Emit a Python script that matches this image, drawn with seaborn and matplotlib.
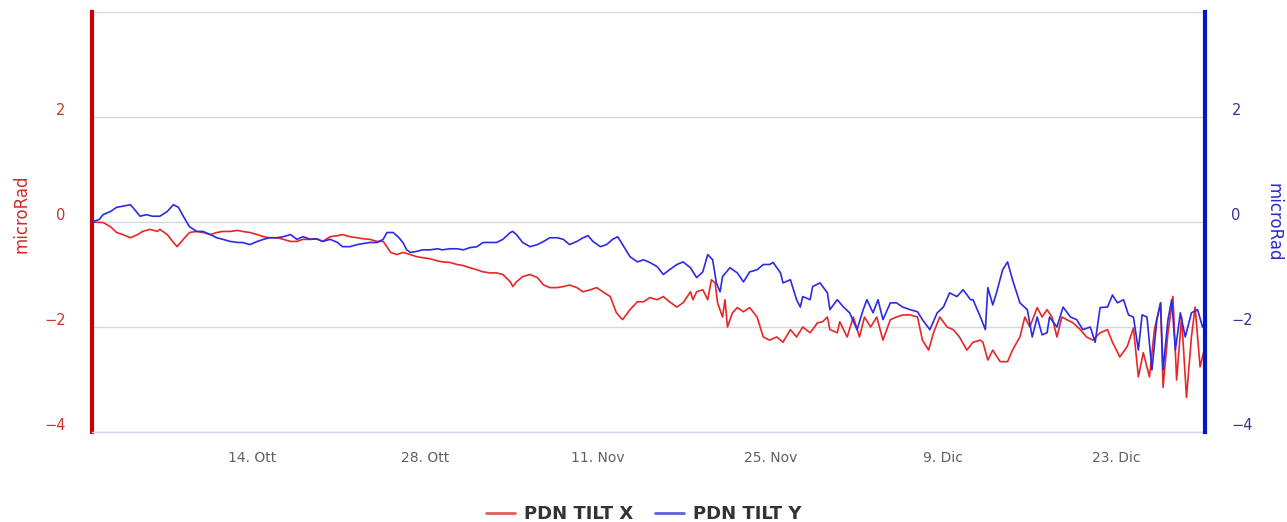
import numpy as np
import pandas as pd
import matplotlib
matplotlib.use("Agg")
import matplotlib.pyplot as plt
import matplotlib.transforms as mtransforms
from matplotlib.lines import Line2D
import seaborn as sns

# ---------------- data ----------------
start_date = "2019-10-01"

tilt_x_days = [0.0, 0.9, 1.5, 2.0, 2.5, 3.1, 3.7, 4.1, 4.7, 5.3, 5.5, 6.1, 6.6, 6.9, 7.4, 7.9,
               8.5, 9.0, 9.6, 10.1, 10.6, 11.2, 11.8, 12.2, 12.8, 13.4, 13.9, 14.4, 15.0, 15.5,
               16.1, 16.6, 17.1, 17.7, 18.2, 18.7, 19.3, 19.9, 20.3, 20.9, 21.5, 22.0, 22.5, 23.1,
               23.6, 23.9, 24.2, 24.7, 25.2, 25.8, 26.3, 26.8, 27.4, 28.0, 28.4, 29.0, 29.6, 30.1,
               30.6, 31.2, 31.7, 32.3, 32.8, 33.3, 33.9, 34.1, 34.4, 34.9, 35.5, 36.1, 36.6, 37.1,
               37.7, 38.2, 38.7, 39.3, 39.8, 40.4, 40.9, 41.4, 42.0, 42.5, 43.0, 43.6, 44.2, 44.7,
               45.2, 45.8, 46.3, 46.8, 47.4, 47.9, 48.5, 48.7, 49.0, 49.5, 49.9, 50.2, 50.5, 50.7,
               51.1, 51.3, 51.5, 51.9, 52.3, 52.8, 53.3, 53.9, 54.4, 54.9, 55.5, 56.0, 56.6, 57.1,
               57.6, 58.2, 58.8, 59.2, 59.6, 59.8, 60.4, 60.6, 61.2, 61.7, 62.2, 62.6, 63.1, 63.6,
               64.1, 64.7, 65.2, 65.7, 66.3, 66.9, 67.3, 67.8, 68.2, 68.7, 69.3, 69.8, 70.3, 70.9,
               71.4, 72.0, 72.2, 72.6, 73.0, 73.6, 74.2, 74.6, 75.2, 75.6, 76.0, 76.6, 77.0, 77.4,
               77.8, 78.2, 78.6, 79.0, 79.5, 80.1, 80.6, 81.1, 81.7, 82.3, 82.7, 83.3, 83.9, 84.4,
               84.8, 85.2, 85.7, 86.1, 86.6, 86.8, 87.2, 87.6, 87.9, 88.3, 88.7, 89.1, 89.4, 89.8,
               90.2]
tilt_x_values = [0.0, -0.01, -0.09, -0.20, -0.24, -0.30, -0.24, -0.18, -0.14, -0.18, -0.14, -0.24,
                 -0.39, -0.47, -0.33, -0.20, -0.18, -0.20, -0.24, -0.20, -0.18, -0.18, -0.16, -0.18,
                 -0.20, -0.24, -0.28, -0.30, -0.30, -0.33, -0.37, -0.37, -0.33, -0.33, -0.32, -0.37,
                 -0.28, -0.26, -0.24, -0.28, -0.30, -0.32, -0.33, -0.37, -0.37, -0.47, -0.58, -0.62,
                 -0.58, -0.62, -0.66, -0.68, -0.70, -0.74, -0.76, -0.77, -0.81, -0.83, -0.87, -0.91,
                 -0.95, -0.97, -0.97, -1.00, -1.14, -1.23, -1.14, -1.04, -1.00, -1.06, -1.20, -1.25,
                 -1.25, -1.23, -1.20, -1.25, -1.33, -1.29, -1.25, -1.33, -1.42, -1.73, -1.86, -1.67,
                 -1.52, -1.52, -1.44, -1.48, -1.42, -1.52, -1.62, -1.54, -1.33, -1.48, -1.33, -1.29,
                 -1.48, -1.10, -1.16, -1.54, -1.81, -1.48, -2.00, -1.73, -1.63, -1.71, -1.63, -1.81,
                 -2.19, -2.25, -2.19, -2.29, -2.05, -2.19, -2.00, -2.11, -1.92, -1.90, -1.81, -2.05,
                 -2.11, -1.90, -2.19, -1.81, -2.19, -1.81, -2.00, -1.81, -2.25, -1.86, -1.81, -1.77,
                 -1.77, -1.81, -2.25, -2.44, -2.11, -1.81, -2.00, -2.05, -2.19, -2.44, -2.29, -2.25,
                 -2.29, -2.63, -2.44, -2.66, -2.66, -2.44, -2.19, -1.81, -2.00, -1.63, -1.81, -1.67,
                 -1.81, -2.19, -1.81, -1.86, -1.92, -2.05, -2.19, -2.25, -2.11, -2.05, -2.29, -2.57,
                 -2.37, -2.02, -2.95, -2.49, -2.95, -2.05, -1.54, -3.15, -2.11, -1.42, -3.01, -1.81,
                 -3.34, -2.19, -1.62, -2.76, -2.37]

tilt_y_days = [0.0, 0.6, 0.9, 1.5, 2.0, 2.5, 3.1, 3.3, 3.9, 4.4, 4.9, 5.5, 6.1, 6.6, 7.0, 7.4,
               7.9, 8.5, 9.0, 9.6, 10.1, 10.6, 11.2, 11.8, 12.2, 12.8, 13.4, 13.9, 14.4, 15.0,
               15.5, 16.1, 16.6, 17.1, 17.7, 18.2, 18.7, 19.3, 19.9, 20.3, 20.9, 21.5, 22.0, 22.5,
               23.1, 23.6, 23.9, 24.4, 24.8, 25.2, 25.5, 25.8, 26.3, 26.8, 27.4, 28.0, 28.4, 29.0,
               29.6, 30.1, 30.6, 31.2, 31.7, 32.3, 32.8, 33.3, 33.9, 34.1, 34.4, 34.9, 35.5, 36.1,
               36.6, 37.1, 37.7, 38.2, 38.7, 39.3, 39.8, 40.2, 40.6, 41.2, 41.7, 42.2, 42.6, 43.0,
               43.6, 44.2, 44.7, 45.2, 45.8, 46.3, 46.8, 47.4, 47.9, 48.5, 49.0, 49.5, 49.9, 50.3,
               50.6, 50.9, 51.1, 51.7, 52.3, 52.8, 53.3, 53.9, 54.4, 54.9, 55.2, 55.8, 56.0, 56.6,
               57.1, 57.4, 57.6, 58.2, 58.4, 59.0, 59.6, 59.8, 60.4, 60.9, 61.4, 62.0, 62.5, 62.8,
               63.3, 63.7, 64.1, 64.7, 65.2, 65.7, 66.3, 66.9, 67.3, 67.9, 68.5, 69.0, 69.5, 70.1,
               70.6, 71.2, 71.4, 72.0, 72.4, 72.6, 73.0, 73.3, 73.8, 74.2, 74.6, 75.2, 75.8, 76.2,
               76.6, 77.0, 77.4, 77.6, 78.2, 78.7, 79.3, 79.8, 80.3, 80.9, 81.3, 81.7, 82.3, 82.7,
               83.1, 83.6, 84.0, 84.4, 84.8, 85.1, 85.5, 85.9, 86.3, 86.6, 86.8, 87.2, 87.5, 87.8,
               88.2, 88.6, 89.1, 89.6, 90.0, 90.2]
tilt_y_values = [0.0, 0.05, 0.14, 0.20, 0.28, 0.30, 0.33, 0.28, 0.11, 0.14, 0.11, 0.11, 0.20,
                 0.33, 0.28, 0.11, -0.09, -0.18, -0.18, -0.24, -0.30, -0.33, -0.37, -0.39, -0.39,
                 -0.43, -0.37, -0.33, -0.30, -0.30, -0.28, -0.24, -0.33, -0.28, -0.33, -0.32, -0.37,
                 -0.33, -0.39, -0.47, -0.47, -0.43, -0.41, -0.39, -0.39, -0.33, -0.20, -0.20, -0.28,
                 -0.39, -0.53, -0.58, -0.56, -0.53, -0.53, -0.51, -0.53, -0.51, -0.51, -0.53, -0.49,
                 -0.47, -0.39, -0.39, -0.39, -0.33, -0.20, -0.18, -0.24, -0.39, -0.47, -0.43, -0.37,
                 -0.30, -0.30, -0.33, -0.43, -0.37, -0.30, -0.26, -0.37, -0.47, -0.43, -0.33, -0.28,
                 -0.43, -0.66, -0.76, -0.72, -0.77, -0.85, -1.00, -0.91, -0.81, -0.76, -0.87, -1.06,
                 -0.95, -0.62, -0.72, -1.16, -1.33, -1.04, -0.87, -0.97, -1.14, -0.95, -0.91, -0.81,
                 -0.81, -0.77, -0.97, -1.16, -1.10, -1.48, -1.62, -1.42, -1.48, -1.23, -1.16, -1.35,
                 -1.67, -1.48, -1.62, -1.73, -2.05, -1.67, -1.48, -1.73, -1.48, -1.86, -1.54, -1.54,
                 -1.62, -1.67, -1.71, -1.86, -2.05, -1.73, -1.62, -1.35, -1.42, -1.29, -1.48, -1.48,
                 -1.81, -2.05, -1.25, -1.58, -1.35, -0.91, -0.76, -1.10, -1.54, -1.67, -2.19, -1.81,
                 -2.15, -2.11, -1.81, -2.00, -1.62, -1.81, -1.86, -2.05, -2.00, -2.29, -1.63, -1.62,
                 -1.39, -1.54, -1.48, -1.77, -1.81, -2.44, -1.77, -1.81, -2.82, -1.86, -1.54, -2.82,
                 -1.86, -1.48, -2.44, -1.73, -2.19, -1.73, -1.67, -2.00, -1.90]

tick_dates = ["2019-10-14", "2019-10-28", "2019-11-11", "2019-11-25", "2019-12-09", "2019-12-23"]
tick_labels = ["14. Ott", "28. Ott", "11. Nov", "25. Nov", "9. Dic", "23. Dic"]
y_ticks = [-4, -2, 0, 2]
series_names = ["PDN TILT X", "PDN TILT Y"]
axis_title = "microRad"
x_end_days = 90.2

# ---------------- build frames ----------------
t0 = pd.Timestamp(start_date)
df_x = pd.DataFrame({"date": t0 + pd.to_timedelta(tilt_x_days, unit="D"), "value": tilt_x_values})
df_y = pd.DataFrame({"date": t0 + pd.to_timedelta(tilt_y_days, unit="D"), "value": tilt_y_values})

# ---------------- styling ----------------
sns.set_theme(style="white")
plt.rcParams["font.family"] = ["DejaVu Sans"]

RED_LINE = "#e82626"
BLUE_LINE = "#2b2be6"
RED_AXIS = "#cc0000"
BLUE_AXIS = "#0018c8"
RED_TEXT = "#c0392b"
BLUE_TEXT = "#33339a"
GRID = "#d3d8df"

fig = plt.figure(figsize=(12.87, 5.22), dpi=100)
ax = fig.add_axes([92 / 1287, 1 - 432 / 522, (1205 - 92) / 1287, (432 - 12) / 522])
ax2 = ax.twinx()

sns.lineplot(data=df_x, x="date", y="value", ax=ax, color=RED_LINE, linewidth=1.2,
             estimator=None, sort=False, legend=False)
sns.lineplot(data=df_y, x="date", y="value", ax=ax2, color=BLUE_LINE, linewidth=1.2,
             estimator=None, sort=False, legend=False)

for a in (ax, ax2):
    a.set_ylim(-4, 4)
    a.set_xlim(t0, t0 + pd.Timedelta(days=x_end_days))
    a.set_xlabel("")
    a.set_ylabel("")

ax.set_yticks(y_ticks)
ax.grid(False)
for gv in [-4, -2, 0, 2, 4]:
    ax.axhline(gv, color=GRID, linewidth=1.0, zorder=0)
ax2.set_yticks(y_ticks)
ax2.grid(False)

for s in ["top", "right", "left", "bottom"]:
    ax.spines[s].set_visible(False)
    ax2.spines[s].set_visible(False)
ax.spines["left"].set_visible(True)
ax.spines["left"].set_color(RED_AXIS)
ax.spines["left"].set_linewidth(3)
ax2.spines["right"].set_visible(True)
ax2.spines["right"].set_color(BLUE_AXIS)
ax2.spines["right"].set_linewidth(3)
ax.spines["bottom"].set_visible(True)
ax.spines["bottom"].set_color("#ccd6eb")
ax.spines["bottom"].set_linewidth(1)

ax.set_xticks(pd.to_datetime(tick_dates))
ax.set_xticklabels(tick_labels)
ax.tick_params(axis="x", length=0, pad=14, labelsize=10, labelcolor="#606060")
ax2.tick_params(axis="x", length=0)

ax.tick_params(axis="y", length=0, pad=19, labelsize=10.5, labelcolor=RED_TEXT)
ax2.tick_params(axis="y", length=0, pad=19, labelsize=10.5, labelcolor=BLUE_TEXT)
ax.set_yticklabels([str(v).replace("-", "\u2212") for v in y_ticks])
ax2.set_yticklabels([str(v).replace("-", "\u2212") for v in y_ticks])
offset = mtransforms.ScaledTranslation(0, 0.08, fig.dpi_scale_trans)
for lab in ax.get_yticklabels() + ax2.get_yticklabels():
    lab.set_transform(lab.get_transform() + offset)

fig.text(21 / 1287, 1 - 214 / 522, axis_title, rotation=90, color="#d42a2a",
         fontsize=12, ha="center", va="center")
fig.text(1273 / 1287, 1 - 222 / 522, axis_title, rotation=270, color="#2a2ad4",
         fontsize=12, ha="center", va="center")

ax.set_zorder(1)
ax2.set_zorder(2)
ax2.patch.set_visible(False)

handles = [Line2D([0], [0], color="#e06060", linewidth=2),
           Line2D([0], [0], color="#6060e0", linewidth=2)]
leg = fig.legend(handles, series_names, loc="center", bbox_to_anchor=(0.5, 1 - 514 / 522),
                 ncol=2, frameon=False, handlelength=1.6, handletextpad=0.5,
                 columnspacing=1.2, prop={"weight": "bold", "size": 13})
for t in leg.get_texts():
    t.set_color("#333333")

fig.savefig("out.png", dpi=100, facecolor="white")
